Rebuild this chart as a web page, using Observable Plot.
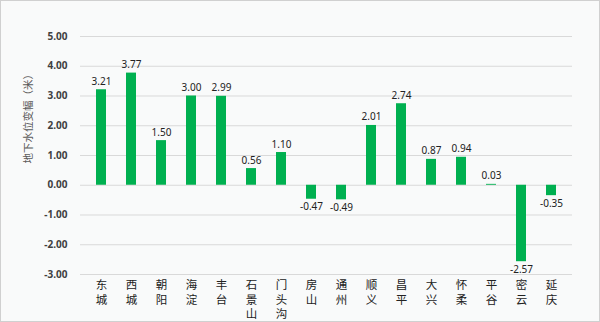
<!DOCTYPE html>
<html><head><meta charset="utf-8">
<script src="https://cdn.jsdelivr.net/npm/d3@7"></script>
<script src="https://cdn.jsdelivr.net/npm/@observablehq/plot@0.6"></script>
<style>
html,body{margin:0;padding:0;background:#fff;}
#wrap{position:relative;width:600px;height:322px;background:#f9fafa;}
#wrap::after{content:"";position:absolute;left:0;top:0;right:0;bottom:0;border:1px solid #d0d0d0;pointer-events:none;}
svg{display:block;}
</style></head>
<body><div id="wrap"></div>
<script>
const districts = ["东城","西城","朝阳","海淀","丰台","石景山","门头沟","房山","通州","顺义","昌平","大兴","怀柔","平谷","密云","延庆"];
const changes = [3.21,3.77,1.50,3.00,2.99,0.56,1.10,-0.47,-0.49,2.01,2.74,0.87,0.94,0.03,-2.57,-0.35];
const yTicks = [-3,-2,-1,0,1,2,3,4,5];
const yTitle = "地下水位变幅（米）";

const data = districts.map((d,i)=>({district:d, value:changes[i]}));
const pos = data.filter(d=>d.value>=0);
const neg = data.filter(d=>d.value<0);
const fmt = v => v.toFixed(2);

// vertical (one character per line) category labels
const charLines = [0,1,2].map(k => Plot.text(districts.filter(d=>d.length>k), {
  x:d=>d, text:d=>d[k], frameAnchor:"bottom", lineAnchor:"middle", dy:11 + 14.5*k,
  fontSize:11.5, fill:"#222", fontFamily:"'Noto Sans CJK SC',sans-serif"
}));

const chart = Plot.plot({
  width:600, height:322,
  marginTop:36, marginBottom:48, marginLeft:80, marginRight:28,
  style:{background:"transparent", fontFamily:"'Noto Sans','Noto Sans CJK SC',sans-serif"},
  x:{domain:districts, paddingInner:0.66, paddingOuter:0.33, label:null, axis:null},
  y:{domain:[-3,5], label:null},
  marks:[
    Plot.gridY(yTicks, {stroke:"#d9d9d9", strokeOpacity:1, strokeWidth:1}),
    Plot.axisY(yTicks, {tickSize:0, tickPadding:13, tickFormat:fmt, fontWeight:"bold", fontSize:10, fill:"#404040", label:null}),
    Plot.text([yTitle], {frameAnchor:"left", rotate:-90, dx:-52, dy:8, fontSize:10.5, fill:"#595959",
      fontFamily:"'Noto Sans CJK SC',sans-serif"}),
    ...charLines,
    Plot.barY(data, {x:"district", y:"value", fill:"#00b050"}),
    Plot.text(pos, {x:"district", y:"value", text:d=>fmt(d.value), dy:-5, lineAnchor:"bottom", fontSize:10, fill:"#222"}),
    Plot.text(neg, {x:"district", y:"value", text:d=>fmt(d.value), dy:4, lineAnchor:"top", fontSize:10, fill:"#222"})
  ]
});
document.getElementById("wrap").appendChild(chart);
</script></body></html>
